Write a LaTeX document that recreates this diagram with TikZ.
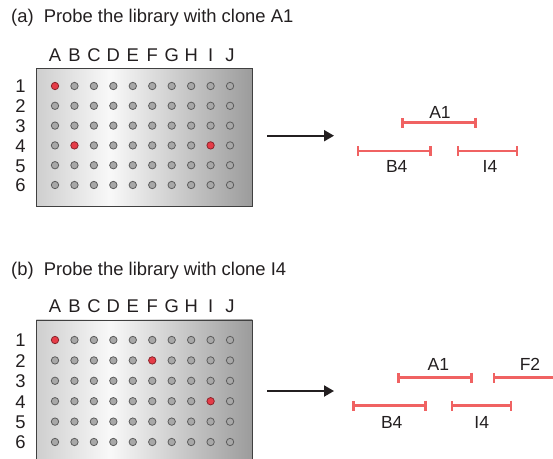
\documentclass[tikz,border=0pt]{standalone}
\usepackage{fontspec}
\setmainfont{Liberation Sans}
\usetikzlibrary{arrows.meta}
\definecolor{probered}{HTML}{F06262}
\definecolor{hitred}{HTML}{E63C48}
\definecolor{wellgray}{HTML}{A8A8A8}
\definecolor{wellrim}{HTML}{5C5C5C}
\definecolor{inkgray}{HTML}{231F20}
\pgfdeclarehorizontalshading{plateshade}{100bp}{color(0bp)=(gray!38); color(25bp)=(gray!38); color(42bp)=(gray!5); color(75bp)=(gray!78); color(100bp)=(gray!78)}
\tikzset{
    lbl/.style={font=\fontsize{18.4}{20}\selectfont, text=inkgray, inner sep=0pt, anchor=base},
    barlbl/.style={lbl, font=\fontsize{17.5}{19}\selectfont},
    plate/.style={shading=plateshade, draw=gray!50!black, line width=0.8pt, inner sep=0pt, anchor=north west},
    well/.style={circle, draw=wellrim, fill=wellgray, line width=0.8pt, minimum size=7.4pt, inner sep=0pt},
    hit/.style={fill=hitred, draw=hitred!60!black},
    clonebar/.style={probered, line width=2.7pt, {Bar[width=10pt]}-{Bar[width=10pt]}},
    probearrow/.style={inkgray, line width=2pt, -{Triangle[length=10pt,width=11pt]}}
}

\begin{document}
\begin{tikzpicture}[x=1pt,y=-1pt]
    \useasboundingbox (0,0) rectangle (553,458);
    % Define dimensions
    \def\colstart{55}
    \def\colgap{19.45}
    % Draw part (a): probe with clone A1
    \begin{scope}[hit-A-1/.style=hit, hit-B-4/.style=hit, hit-I-4/.style=hit]
        \def\firstrow{86}
        \def\rowgap{19.8}
        \node[lbl, anchor=base west] (title-a) at (11,22.7) {(a)\hspace{0.55em}Probe the library with clone A1};
        \node[plate, minimum width=216pt, minimum height=137.5pt] (plate-a) at (36,68) {};
        \foreach \col [count=\i from 0] in {A,B,C,D,E,F,G,H,I,J} {
            \node[lbl] (col-a-\col) at (\colstart+\colgap*\i,61.7) {\col};
            \foreach \row in {1,...,6}
                \node[well, hit-\col-\row/.try] (w-a-\col-\row) at (\colstart+\colgap*\i,\firstrow+\rowgap*\row-\rowgap) {};
        }
        \foreach \row in {1,...,6}
            \node[lbl] (row-a-\row) at (20.5,\firstrow+\rowgap*\row-\rowgap+6.9) {\row};
        % Arrow to the contig
        \coordinate (from-a) at (267,135.7);
        \coordinate (to-a) at (334,135.7);
        \draw[probearrow] (from-a) -- (to-a);
        % Clones that light up
        \draw[clonebar] (401,122.7) -- (476.7,122.7);
        \node[barlbl] (bar-a-A1) at (440,118.3) {A1};
        \draw[clonebar] (356.7,151) -- (431.7,151);
        \node[barlbl] (bar-a-B4) at (396.7,172.7) {B4};
        \draw[clonebar] (456.7,151) -- (518.3,151);
        \node[barlbl] (bar-a-I4) at (490,172.7) {I4};
    \end{scope}
    % Draw part (b): probe with clone I4
    \begin{scope}[hit-A-1/.style=hit, hit-F-2/.style=hit, hit-I-4/.style=hit]
        \def\firstrow{340}
        \def\rowgap{20.4}
        \node[lbl, anchor=base west] (title-b) at (11,275.2) {(b)\hspace{0.55em}Probe the library with clone I4};
        \node[plate, minimum width=216pt, minimum height=143pt] (plate-b) at (36,319.5) {};
        \foreach \col [count=\i from 0] in {A,B,C,D,E,F,G,H,I,J} {
            \node[lbl] (col-b-\col) at (\colstart+\colgap*\i,312.8) {\col};
            \foreach \row in {1,...,6}
                \node[well, hit-\col-\row/.try] (w-b-\col-\row) at (\colstart+\colgap*\i,\firstrow+\rowgap*\row-\rowgap) {};
        }
        \foreach \row in {1,...,6}
            \node[lbl] (row-b-\row) at (20.5,\firstrow+\rowgap*\row-\rowgap+6.9) {\row};
        % Arrow to the contig
        \coordinate (from-b) at (267,391);
        \coordinate (to-b) at (334,391);
        \draw[probearrow] (from-b) -- (to-b);
        % Clones that light up
        \draw[clonebar] (397.3,377.7) -- (472.7,377.7);
        \node[barlbl] (bar-b-A1) at (438.3,370.7) {A1};
        \draw[clonebar] (492.7,377.7) -- (575,377.7);
        \node[barlbl] (bar-b-F2) at (530,370.7) {F2};
        \draw[clonebar] (352.3,405.7) -- (426.7,405.7);
        \node[barlbl] (bar-b-B4) at (391.7,428) {B4};
        \draw[clonebar] (450.7,405.7) -- (512.3,405.7);
        \node[barlbl] (bar-b-I4) at (481.7,428) {I4};
    \end{scope}
\end{tikzpicture}
\end{document}
